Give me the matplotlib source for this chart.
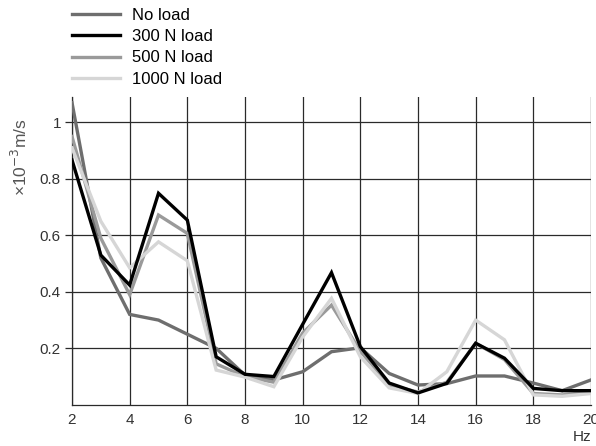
import matplotlib.pyplot as plt

# Frequency (Hz) and vibration velocity (x10^-3 m/s)
freq = [2, 3, 4, 5, 6, 7, 8, 9, 10, 11, 12, 13, 14, 15, 16, 17, 18, 19, 20]
no_load = [1.07, 0.52, 0.32, 0.30, 0.25, 0.20, 0.105, 0.088, 0.117, 0.188, 0.202, 0.111, 0.07, 0.075, 0.102, 0.102, 0.077, 0.05, 0.088]
load_300 = [0.867, 0.53, 0.424, 0.749, 0.654, 0.17, 0.108, 0.10, 0.285, 0.468, 0.206, 0.077, 0.042, 0.076, 0.218, 0.165, 0.058, 0.05, 0.05]
load_500 = [0.95, 0.59, 0.39, 0.672, 0.607, 0.145, 0.10, 0.08, 0.254, 0.353, 0.19, 0.07, 0.045, 0.08, 0.218, 0.16, 0.04, 0.035, 0.045]
load_1000 = [0.91, 0.65, 0.485, 0.577, 0.51, 0.123, 0.098, 0.064, 0.24, 0.377, 0.17, 0.06, 0.04, 0.117, 0.30, 0.23, 0.035, 0.03, 0.04]

labels = ['No load', '300 N load', '500 N load', '1000 N load']
colors = ['#6e6e6e', '#000000', '#9a9a9a', '#d6d6d6']
x_ticks = [2, 4, 6, 8, 10, 12, 14, 16, 18, 20]
y_ticks = [0.2, 0.4, 0.6, 0.8, 1.0]
y_ticklabels = ['0.2', '0.4', '0.6', '0.8', '1']

plt.rcParams['font.family'] = ['Liberation Sans', 'DejaVu Sans']

fig = plt.figure(figsize=(5.96, 4.46), dpi=100)
ax = fig.add_axes([0.1208, 0.0924, 0.8708, 0.6901])

series = [no_load, load_300, load_500, load_1000]
order = [0, 2, 3, 1]  # draw black line on top
handles = [None] * 4
for i in order:
    line, = ax.plot(freq, series[i], color=colors[i], lw=2.4, label=labels[i],
                    solid_joinstyle='miter', zorder=3 + (i == 1))
    handles[i] = line

ax.set_xlim(2, 20)
ax.set_ylim(0, 1.09)
ax.set_xticks(x_ticks)
ax.set_yticks(y_ticks)
ax.set_yticklabels(y_ticklabels)
ax.grid(True, color='#2a2a2a', lw=0.9)
ax.set_axisbelow(True)
for side in ['top', 'right']:
    ax.spines[side].set_visible(False)
for side in ['left', 'bottom']:
    ax.spines[side].set_color('#2a2a2a')
    ax.spines[side].set_linewidth(0.9)
ax.tick_params(axis='x', length=0, pad=6, labelsize=11, labelcolor='#333333')
ax.tick_params(axis='y', length=5, width=0.9, color='#2a2a2a', pad=3,
               labelsize=11, labelcolor='#333333')

fig.text(20 / 596, 1 - 157 / 446, '×10$^{-3}$m/s', rotation=90, ha='center', va='center',
         fontsize=12.5, color='#555555')
fig.text(582 / 596, 1 - 437 / 446, 'Hz', ha='center', va='center', fontsize=11, color='#333333')

fig.legend(handles=handles, labels=labels, loc='upper left',
           bbox_to_anchor=(62 / 596, 1.005), frameon=False, fontsize=12,
           handlelength=2.9, handletextpad=0.7, labelspacing=0.38, borderaxespad=0.2)

fig.savefig('out.png', dpi=100)
